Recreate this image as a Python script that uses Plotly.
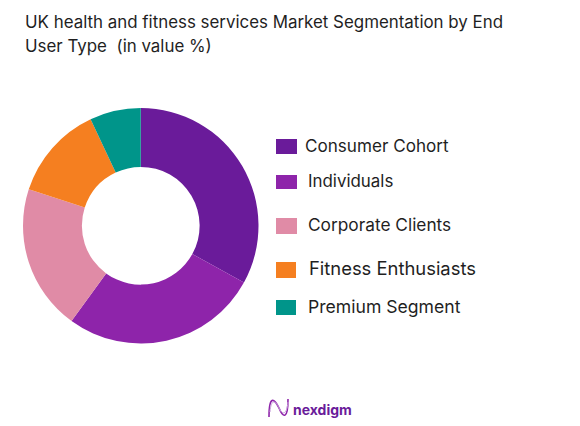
import plotly.graph_objects as go

W, H = 580, 426
categories = ["Consumer Cohort", "Individuals", "Corporate Clients", "Fitness Enthusiasts", "Premium Segment"]
values = [33, 27, 20, 13, 7]
colors = ["#6A1B9A", "#8E24AA", "#E08BA6", "#F57F20", "#00958A"]
title_lines = ["UK health and fitness services Market Segmentation by End", "User Type  (in value %)"]
brand = "nexdigm"

# legend layout in pixels: swatch x0, x1, y0, y1, text x, text y, font size
legend_layout = [
    (276, 297, 139, 154, 303, 145, 17.1),
    (276, 297, 175, 189, 306, 181, 16.9),
    (276, 297, 218, 234, 306, 224, 17.3),
    (276, 296, 262, 278, 307, 268, 18.4),
    (276, 296, 300, 315, 306, 306, 17.6),
]
FONT = "Inter"
INK = "#1f1f1f"

def px(x):
    return x / W

def py(y):
    return 1 - y / H

fig = go.Figure(go.Pie(
    labels=categories, values=values, hole=0.5, sort=False, direction="clockwise",
    rotation=0, marker=dict(colors=colors, line=dict(width=0)), textinfo="none",
    hoverinfo="label+percent", domain=dict(x=[px(23), px(258.5)], y=[py(343.5), py(108)]),
))

annotations = []
shapes = []
for i, line in enumerate(title_lines):
    annotations.append(dict(text=line, x=px(23), y=py(22 + 24 * i), xref="paper", yref="paper",
                            xanchor="left", yanchor="middle", showarrow=False,
                            font=dict(family=FONT, size=16.9, color=INK)))
for cat, col, (x0, x1, y0, y1, tx, ty, fs) in zip(categories, colors, legend_layout):
    shapes.append(dict(type="rect", xref="paper", yref="paper", x0=px(x0), x1=px(x1), y0=py(y1), y1=py(y0),
                       fillcolor=col, line=dict(width=0)))
    annotations.append(dict(text=cat, x=px(tx), y=py(ty), xref="paper", yref="paper",
                            xanchor="left", yanchor="middle", showarrow=False,
                            font=dict(family=FONT, size=fs, color=INK)))
annotations.append(dict(text=f"<b>{brand}</b>", x=px(291), y=py(409), xref="paper", yref="paper",
                        xanchor="left", yanchor="middle", showarrow=False,
                        font=dict(family=FONT, size=14, color="#6A1B9A")))

# brand logo: two thin waves
def logo_path(pts):
    p0, c1, c2, p1, c3, c4, p2 = [(px(a), py(b)) for a, b in pts]
    return (f"M{p0[0]},{p0[1]} C{c1[0]},{c1[1]} {c2[0]},{c2[1]} {p1[0]},{p1[1]} "
            f"C{c3[0]},{c3[1]} {c4[0]},{c4[1]} {p2[0]},{p2[1]}")

for pts, col, wd in [
    ([(269, 417), (269, 395), (274, 398), (279, 408), (283, 418), (288, 420), (288, 399)], "#8E24AA", 1.6),
    ([(270, 412), (271, 398), (276, 400), (280, 410), (283, 415), (287, 414), (288, 402)], "#C9A0DC", 1),
]:
    shapes.append(dict(type="path", xref="paper", yref="paper", path=logo_path(pts), line=dict(color=col, width=wd)))

fig.update_layout(width=W, height=H, margin=dict(l=0, r=0, t=0, b=0), showlegend=False,
                  paper_bgcolor="white", annotations=annotations, shapes=shapes)
fig.write_html("out.html", config=dict(displayModeBar=False),
               post_script="document.body.style.margin='0';document.body.style.overflow='hidden';")
